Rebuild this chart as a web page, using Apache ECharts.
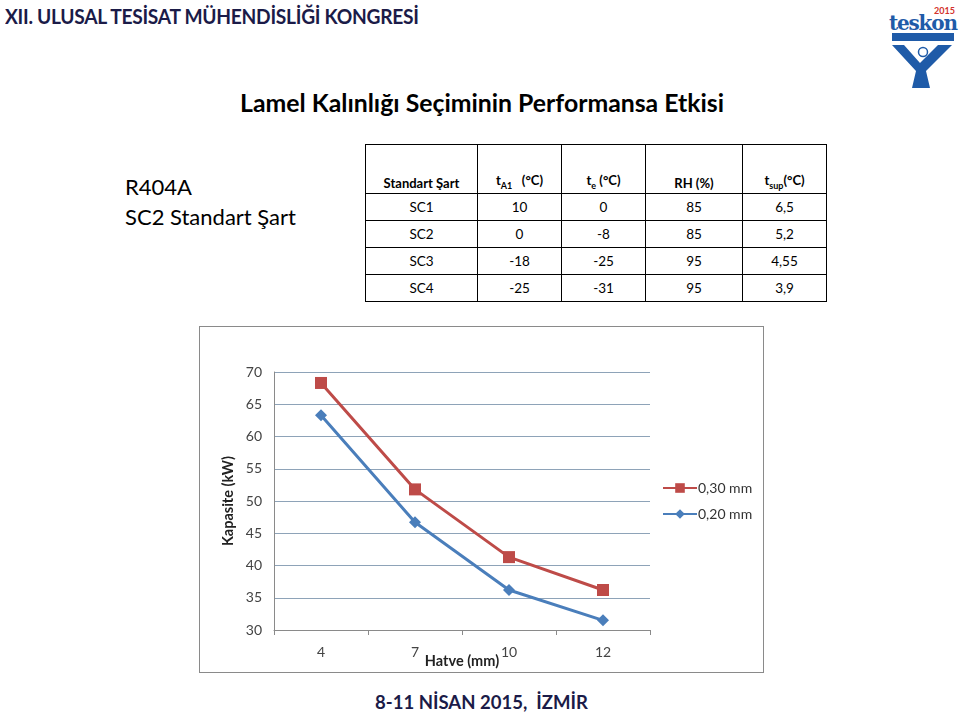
<!DOCTYPE html>
<html><head><meta charset="utf-8">
<script src="https://cdn.jsdelivr.net/npm/echarts@6/dist/echarts.min.js"></script>
<style>
html,body{margin:0;padding:0;background:#fff;}
body{width:960px;height:718px;position:relative;overflow:hidden;font-family:Lato,"Open Sans",sans-serif;}
.abs{position:absolute;}
#hdr{left:5px;top:4px;font-weight:bold;font-size:20px;color:#1b1b48;white-space:nowrap;transform-origin:0 0;transform:scaleX(0.96);letter-spacing:-0.3px;}
#title{left:0;width:964px;top:88px;text-align:center;font-weight:bold;font-size:24.8px;color:#000;}
#left1{left:125px;top:172px;font-size:22px;color:#000;line-height:30px;}
table{border-collapse:collapse;position:absolute;left:365px;top:144px;font-size:13.5px;color:#000;}
td{border:1.6px solid #000;text-align:center;padding:0;}
tr.h td{height:46px;vertical-align:bottom;font-weight:bold;padding-bottom:2px;font-size:13px;}
tr.r td{height:26px;}
sub{font-size:9px;}
#foot{left:375px;top:690px;font-weight:bold;font-size:19.5px;color:#1b1b48;white-space:nowrap;transform-origin:0 0;transform:scaleX(0.95);}
#chart{left:199px;top:326px;width:566px;height:348px;}
#frame{left:199px;top:326px;width:563px;height:345px;border:1.6px solid #8a8a8a;pointer-events:none;}
</style></head>
<body>
<div id="hdr" class="abs">XII. ULUSAL TESİSAT MÜHENDİSLİĞİ KONGRESİ</div>
<svg class="abs" style="left:886px;top:2px" width="74" height="88" viewBox="0 0 74 88">
  <text x="48" y="12" font-family="Lato" font-weight="bold" font-size="9" fill="#d3322c">2015</text>
  <text x="3" y="28" font-family="DejaVu Serif" font-weight="bold" font-size="20" fill="#1f5ba8" letter-spacing="-1.2">teskon</text>
  <rect x="6" y="31" width="62" height="8" fill="#1f5ba8"/>
  <polygon points="6,43 18,43 34,61 52,43 66,43 40,69 44,86 26,86 30,69" fill="#1f5ba8"/>
  <circle cx="37" cy="50" r="4.5" fill="#fff" stroke="#1f5ba8" stroke-width="1.5"/>
</svg>
<div id="title" class="abs">Lamel Kalınlığı Seçiminin Performansa Etkisi</div>
<div id="left1" class="abs">R404A<br>SC2 Standart Şart</div>
<table>
<colgroup><col style="width:112px"><col style="width:84px"><col style="width:84px"><col style="width:97px"><col style="width:84px"></colgroup>
<tr class="h"><td>Standart Şart</td><td>t<sub>A1</sub>&nbsp;&nbsp;&nbsp;(°C)</td><td>t<sub>e</sub> (°C)</td><td>RH (%)</td><td>t<sub>sup</sub>(°C)</td></tr>
<tr class="r"><td>SC1</td><td>10</td><td>0</td><td>85</td><td>6,5</td></tr>
<tr class="r"><td>SC2</td><td>0</td><td>-8</td><td>85</td><td>5,2</td></tr>
<tr class="r"><td>SC3</td><td>-18</td><td>-25</td><td>95</td><td>4,55</td></tr>
<tr class="r"><td>SC4</td><td>-25</td><td>-31</td><td>95</td><td>3,9</td></tr>
</table>
<div id="chart" class="abs"></div>
<div id="frame" class="abs"></div>
<div id="foot" class="abs">8-11 NİSAN 2015,&nbsp; İZMİR</div>
<script>
var categories = ['4', '7', '10', '12'];
var series030 = [68.3, 51.8, 41.3, 36.2];
var series020 = [63.3, 46.7, 36.2, 31.5];
var seriesNames = ['0,30 mm', '0,20 mm'];
var yTicks = {min: 30, max: 70, interval: 5};

var chart = echarts.init(document.getElementById('chart'));
var font = 'Lato';
chart.setOption({
  animation: false,
  textStyle: {fontFamily: font},
  grid: {left: 75, right: 115, top: 46, bottom: 44, outerBoundsMode: 'none', containLabel: false},
  legend: {
    orient: 'vertical', left: 458, top: 150, itemGap: 12,
    itemWidth: 34, itemHeight: 12,
    textStyle: {fontSize: 14, color: '#333', fontFamily: font, padding: [0, 0, 0, -4]},
    data: seriesNames
  },
  xAxis: {
    type: 'category', data: categories, boundaryGap: true,
    name: 'Hatve (mm)', nameLocation: 'middle', nameGap: 24, nameMoveOverlap: false,
    nameTextStyle: {fontWeight: 'bold', fontSize: 14.5, color: '#222', fontFamily: font},
    axisLine: {lineStyle: {color: '#8a8a8a', width: 1}},
    axisTick: {show: true, length: 5, lineStyle: {color: '#8a8a8a'}},
    axisLabel: {fontSize: 14, color: '#444', margin: 15}
  },
  yAxis: {
    type: 'value', min: yTicks.min, max: yTicks.max, interval: yTicks.interval,
    name: 'Kapasite (kW)', nameLocation: 'middle', nameGap: 38, nameRotate: 90, nameMoveOverlap: false,
    nameTextStyle: {fontWeight: 'bold', fontSize: 14.5, color: '#222', fontFamily: font},
    axisLine: {show: true, lineStyle: {color: '#8a8a8a', width: 1}},
    axisTick: {show: false},
    axisLabel: {fontSize: 14, color: '#444', margin: 12},
    splitLine: {lineStyle: {color: '#8ea3b8', width: 1}}
  },
  series: [
    {name: seriesNames[0], type: 'line', data: series030,
     symbol: 'rect', symbolSize: 12,
     lineStyle: {color: '#be4b48', width: 3},
     itemStyle: {color: '#be4b48'}},
    {name: seriesNames[1], type: 'line', data: series020,
     symbol: 'diamond', symbolSize: 12,
     lineStyle: {color: '#4a7ebb', width: 3},
     itemStyle: {color: '#4a7ebb'}}
  ]
});
</script>
</body></html>
